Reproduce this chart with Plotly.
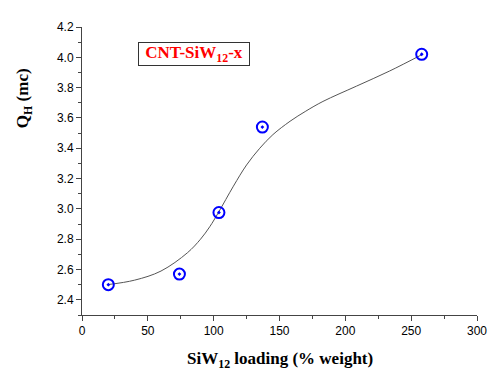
import plotly.graph_objects as go

# Measured data points
loading = [20, 74, 104, 137, 258]
qh = [2.50, 2.57, 2.976, 3.54, 4.02]

# Fitted curve
curve_x = [19.3, 40, 60, 80, 90, 97, 103.6, 115, 125, 135, 145, 158, 170, 183, 208.5, 233.7, 258.2]
curve_y = [2.50, 2.53, 2.59, 2.71, 2.80, 2.882, 2.976, 3.15, 3.29, 3.40, 3.49, 3.578, 3.645, 3.709, 3.81, 3.91, 4.018]

x_ticks = [0, 50, 100, 150, 200, 250, 300]
y_ticks = [2.4, 2.6, 2.8, 3.0, 3.2, 3.4, 3.6, 3.8, 4.0, 4.2]

serif = "Times New Roman, Liberation Serif, serif"
sans = "Arial, Liberation Sans, sans-serif"

fig = go.Figure()
fig.add_trace(go.Scatter(x=curve_x, y=curve_y, mode="lines",
                         line=dict(color="#555555", width=1, shape="spline", smoothing=1.0),
                         hoverinfo="skip", showlegend=False))
fig.add_trace(go.Scatter(x=loading, y=qh, mode="markers",
                         marker=dict(symbol="circle-open-dot", size=11, color="#0000ff",
                                     line=dict(color="#0000ff", width=2)),
                         showlegend=False))

fig.update_layout(
    width=500, height=380,
    margin=dict(l=73.5, r=30.5, t=17, b=72.5),
    paper_bgcolor="white", plot_bgcolor="white",
    font=dict(family=sans, size=12, color="#000000"),
    xaxis=dict(range=[0, 300], tickvals=x_ticks, ticktext=[str(v) for v in x_ticks],
               showline=True, linecolor="#444444", linewidth=1, showgrid=False, zeroline=False,
               ticks="outside", ticklen=5, tickcolor="#444444",
               minor=dict(dtick=25, tick0=0, ticks="outside", ticklen=3, tickcolor="#444444"),
               tickfont=dict(family=sans, size=12)),
    yaxis=dict(range=[2.3, 4.2], tickvals=y_ticks, ticktext=[f"{v:.1f}" for v in y_ticks],
               showline=True, linecolor="#444444", linewidth=1, showgrid=False, zeroline=False,
               ticks="outside", ticklen=5, tickcolor="#444444",
               minor=dict(dtick=0.1, tick0=2.3, ticks="outside", ticklen=3, tickcolor="#444444"),
               tickfont=dict(family=sans, size=12)),
)

fig.add_annotation(text="<b>SiW<sub>12</sub> loading (% weight)</b>", xref="paper", yref="paper",
                   x=0.5, y=-0.11, xanchor="center", yanchor="top", showarrow=False,
                   font=dict(family=serif, size=17, color="#000000"))
fig.add_annotation(text="<b>Q<sub>H</sub> (mc)</b>", xref="paper", yref="paper",
                   x=-0.145, y=0.752, xanchor="center", yanchor="middle", textangle=-90,
                   showarrow=False, font=dict(family=serif, size=17, color="#000000"))
fig.add_annotation(text="<b>CNT-SiW<sub>12</sub>-x</b>", xref="paper", yref="paper",
                   x=0.283, y=0.905, xanchor="center", yanchor="middle", showarrow=False,
                   width=108, height=20, borderpad=1,
                   bordercolor="#333333", borderwidth=1, bgcolor="white",
                   font=dict(family=serif, size=17, color="#ff0000"))

fig.write_html("out.html")
